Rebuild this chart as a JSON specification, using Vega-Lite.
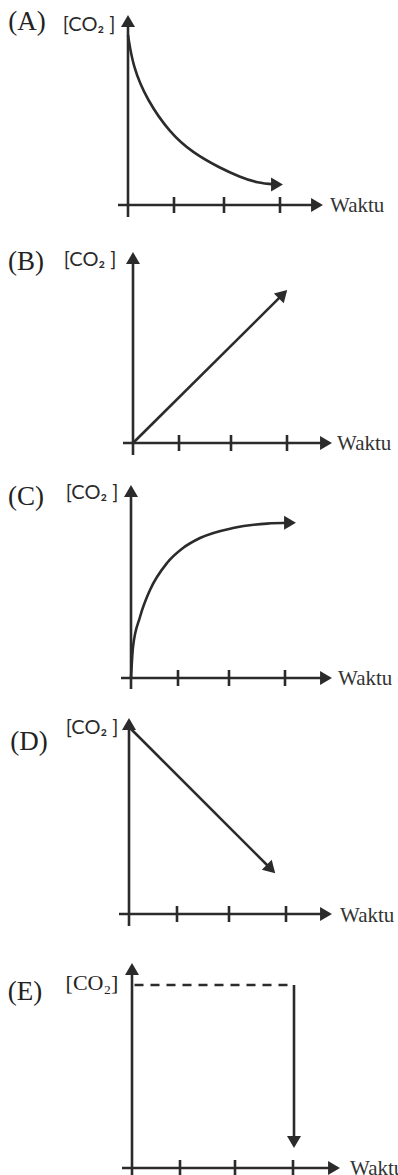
{
"$schema":"https://vega.github.io/schema/vega-lite/v6.json",
"padding":0,"spacing":0,"bounds":"flush",
"background":"white",
"config":{"view":{"stroke":null},"concat":{"spacing":0}},
"vconcat":[
{
 "width":398,"height":230,
 "encoding":{
  "x":{"field":"t","type":"quantitative","scale":{"domain":[-2.56,5.40],"nice":false,"zero":false},"axis":null},
  "y":{"field":"c","type":"quantitative","scale":{"domain":[-1.25,10.25],"nice":false,"zero":false},"axis":null}
 },
 "layer":[
  {"data":{"values":[{"part":"x-axis","t":-0.2,"c":0,"t2":3.78,"c2":0},{"part":"y-axis","t":0,"c":-0.6,"t2":0,"c2":9.2}]},
   "mark":{"type":"rule","color":"#2b2b2b","strokeWidth":2.6},
   "encoding":{"x2":{"field":"t2"},"y2":{"field":"c2"}}},
  {"data":{"values":[{"t":0.92,"c":0},{"t":1.92,"c":0},{"t":3.04,"c":0}]},
   "mark":{"type":"point","shape":"M0,-1L0,1","size":256,"filled":false,"strokeWidth":2.6,"color":"#2b2b2b","opacity":1}},
  {"data":{"values":[{"t":0,"c":8.5},{"t":0.1,"c":6.9},{"t":0.38,"c":5.25},{"t":0.84,"c":3.6},{"t":1.3,"c":2.6},{"t":1.84,"c":1.85},{"t":2.24,"c":1.4},{"t":2.58,"c":1.1},{"t":2.98,"c":1.02}]},
   "mark":{"type":"line","interpolate":"basis","color":"#2b2b2b","strokeWidth":2.6}},
  {"data":{"values":[{"t":3.78,"c":0,"dir":"right"},{"t":0,"c":9.2,"dir":"up"},{"t":2.98,"c":1.02,"dir":"right"}]},
   "mark":{"type":"point","filled":true,"size":196,"color":"#2b2b2b","opacity":1,"strokeWidth":0},
   "encoding":{"shape":{"field":"dir","type":"nominal","legend":null,"scale":{"domain":["right","up","down","upright","downright"],"range":["M0.85,0L-0.85,-1L-0.85,1Z","M0,-0.85L-1,0.85L1,0.85Z","M0,0.85L-1,-0.85L1,-0.85Z","M0.601,-0.601L-1.308,-0.106L0.106,1.308Z","M0.601,0.601L0.106,-1.308L-1.308,0.106Z"]}}}},
  {"data":{"values":[{"t":-2.02,"c":9.15,"label":"(A)"}]},
   "mark":{"type":"text","font":"Liberation Serif","fontSize":27,"color":"#222","align":"center","baseline":"middle"},
   "encoding":{"text":{"field":"label"}}},
  {"data":{"values":[{"t":-0.78,"c":9.0,"label":"[CO₂ ]"}]},
   "mark":{"type":"text","font":"Lato","fontSize":20,"color":"#2a2a2a","align":"center","baseline":"middle"},
   "encoding":{"text":{"field":"label"}}},
  {"data":{"values":[{"t":4.04,"c":-0.35,"label":"Waktu"}]},
   "mark":{"type":"text","font":"Liberation Serif","fontSize":21,"color":"#333","align":"left","baseline":"alphabetic"},
   "encoding":{"text":{"field":"label"}}}
 ]
},
{
 "width":398,"height":230,
 "encoding":{
  "x":{"field":"t","type":"quantitative","scale":{"domain":[-2.66,5.30],"nice":false,"zero":false},"axis":null},
  "y":{"field":"c","type":"quantitative","scale":{"domain":[-0.85,10.65],"nice":false,"zero":false},"axis":null}
 },
 "layer":[
  {"data":{"values":[{"part":"x-axis","t":-0.2,"c":0,"t2":3.86,"c2":0},{"part":"y-axis","t":0,"c":-0.6,"t2":0,"c2":9.25}]},
   "mark":{"type":"rule","color":"#2b2b2b","strokeWidth":2.6},
   "encoding":{"x2":{"field":"t2"},"y2":{"field":"c2"}}},
  {"data":{"values":[{"t":0.92,"c":0},{"t":1.96,"c":0},{"t":3.08,"c":0}]},
   "mark":{"type":"point","shape":"M0,-1L0,1","size":256,"filled":false,"strokeWidth":2.6,"color":"#2b2b2b","opacity":1}},
  {"data":{"values":[{"t":0,"c":0},{"t":3.0,"c":7.44}]},
   "mark":{"type":"line","color":"#2b2b2b","strokeWidth":2.6}},
  {"data":{"values":[{"t":3.86,"c":0,"dir":"right"},{"t":0,"c":9.25,"dir":"up"},{"t":3.0,"c":7.44,"dir":"upright"}]},
   "mark":{"type":"point","filled":true,"size":196,"color":"#2b2b2b","opacity":1,"strokeWidth":0},
   "encoding":{"shape":{"field":"dir","type":"nominal","legend":null,"scale":{"domain":["right","up","down","upright","downright"],"range":["M0.85,0L-0.85,-1L-0.85,1Z","M0,-0.85L-1,0.85L1,0.85Z","M0,0.85L-1,-0.85L1,-0.85Z","M0.601,-0.601L-1.308,-0.106L0.106,1.308Z","M0.601,0.601L0.106,-1.308L-1.308,0.106Z"]}}}},
  {"data":{"values":[{"t":-2.14,"c":9.05,"label":"(B)"}]},
   "mark":{"type":"text","font":"Liberation Serif","fontSize":27,"color":"#222","align":"center","baseline":"middle"},
   "encoding":{"text":{"field":"label"}}},
  {"data":{"values":[{"t":-0.86,"c":9.15,"label":"[CO₂ ]"}]},
   "mark":{"type":"text","font":"Lato","fontSize":20,"color":"#2a2a2a","align":"center","baseline":"middle"},
   "encoding":{"text":{"field":"label"}}},
  {"data":{"values":[{"t":4.08,"c":-0.35,"label":"Waktu"}]},
   "mark":{"type":"text","font":"Liberation Serif","fontSize":21,"color":"#333","align":"left","baseline":"alphabetic"},
   "encoding":{"text":{"field":"label"}}}
 ]
},
{
 "width":398,"height":230,
 "encoding":{
  "x":{"field":"t","type":"quantitative","scale":{"domain":[-2.62,5.34],"nice":false,"zero":false},"axis":null},
  "y":{"field":"c","type":"quantitative","scale":{"domain":[-0.6,10.9],"nice":false,"zero":false},"axis":null}
 },
 "layer":[
  {"data":{"values":[{"part":"x-axis","t":-0.2,"c":0,"t2":3.9,"c2":0},{"part":"y-axis","t":0,"c":-0.55,"t2":0,"c2":9.35}]},
   "mark":{"type":"rule","color":"#2b2b2b","strokeWidth":2.6},
   "encoding":{"x2":{"field":"t2"},"y2":{"field":"c2"}}},
  {"data":{"values":[{"t":0.94,"c":0},{"t":1.96,"c":0},{"t":3.08,"c":0}]},
   "mark":{"type":"point","shape":"M0,-1L0,1","size":256,"filled":false,"strokeWidth":2.6,"color":"#2b2b2b","opacity":1}},
  {"data":{"values":[{"t":0,"c":0},{"t":0.04,"c":1.55},{"t":0.18,"c":3.05},{"t":0.38,"c":4.4},{"t":0.72,"c":5.75},{"t":1.04,"c":6.5},{"t":1.38,"c":7.0},{"t":2.04,"c":7.5},{"t":2.72,"c":7.72},{"t":3.18,"c":7.76}]},
   "mark":{"type":"line","interpolate":"monotone","color":"#2b2b2b","strokeWidth":2.6}},
  {"data":{"values":[{"t":3.9,"c":0,"dir":"right"},{"t":0,"c":9.35,"dir":"up"},{"t":3.18,"c":7.76,"dir":"right"}]},
   "mark":{"type":"point","filled":true,"size":196,"color":"#2b2b2b","opacity":1,"strokeWidth":0},
   "encoding":{"shape":{"field":"dir","type":"nominal","legend":null,"scale":{"domain":["right","up","down","upright","downright"],"range":["M0.85,0L-0.85,-1L-0.85,1Z","M0,-0.85L-1,0.85L1,0.85Z","M0,0.85L-1,-0.85L1,-0.85Z","M0.601,-0.601L-1.308,-0.106L0.106,1.308Z","M0.601,0.601L0.106,-1.308L-1.308,0.106Z"]}}}},
  {"data":{"values":[{"t":-2.1,"c":9.05,"label":"(C)"}]},
   "mark":{"type":"text","font":"Liberation Serif","fontSize":27,"color":"#222","align":"center","baseline":"middle"},
   "encoding":{"text":{"field":"label"}}},
  {"data":{"values":[{"t":-0.78,"c":9.25,"label":"[CO₂ ]"}]},
   "mark":{"type":"text","font":"Lato","fontSize":20,"color":"#2a2a2a","align":"center","baseline":"middle"},
   "encoding":{"text":{"field":"label"}}},
  {"data":{"values":[{"t":4.14,"c":-0.35,"label":"Waktu"}]},
   "mark":{"type":"text","font":"Liberation Serif","fontSize":21,"color":"#333","align":"left","baseline":"alphabetic"},
   "encoding":{"text":{"field":"label"}}}
 ]
},
{
 "width":398,"height":240,
 "encoding":{
  "x":{"field":"t","type":"quantitative","scale":{"domain":[-2.58,5.38],"nice":false,"zero":false},"axis":null},
  "y":{"field":"c","type":"quantitative","scale":{"domain":[-0.8,11.2],"nice":false,"zero":false},"axis":null}
 },
 "layer":[
  {"data":{"values":[{"part":"x-axis","t":-0.2,"c":0,"t2":3.94,"c2":0},{"part":"y-axis","t":0,"c":-0.6,"t2":0,"c2":9.5}]},
   "mark":{"type":"rule","color":"#2b2b2b","strokeWidth":2.6},
   "encoding":{"x2":{"field":"t2"},"y2":{"field":"c2"}}},
  {"data":{"values":[{"t":0.96,"c":0},{"t":2.0,"c":0},{"t":3.14,"c":0}]},
   "mark":{"type":"point","shape":"M0,-1L0,1","size":256,"filled":false,"strokeWidth":2.6,"color":"#2b2b2b","opacity":1}},
  {"data":{"values":[{"t":0.02,"c":9.3},{"t":2.84,"c":2.25}]},
   "mark":{"type":"line","color":"#2b2b2b","strokeWidth":2.6}},
  {"data":{"values":[{"t":3.94,"c":0,"dir":"right"},{"t":0,"c":9.5,"dir":"up"},{"t":2.84,"c":2.25,"dir":"downright"}]},
   "mark":{"type":"point","filled":true,"size":196,"color":"#2b2b2b","opacity":1,"strokeWidth":0},
   "encoding":{"shape":{"field":"dir","type":"nominal","legend":null,"scale":{"domain":["right","up","down","upright","downright"],"range":["M0.85,0L-0.85,-1L-0.85,1Z","M0,-0.85L-1,0.85L1,0.85Z","M0,0.85L-1,-0.85L1,-0.85Z","M0.601,-0.601L-1.308,-0.106L0.106,1.308Z","M0.601,0.601L0.106,-1.308L-1.308,0.106Z"]}}}},
  {"data":{"values":[{"t":-2.0,"c":8.6,"label":"(D)"}]},
   "mark":{"type":"text","font":"Liberation Serif","fontSize":27,"color":"#222","align":"center","baseline":"middle"},
   "encoding":{"text":{"field":"label"}}},
  {"data":{"values":[{"t":-0.74,"c":9.3,"label":"[CO₂ ]"}]},
   "mark":{"type":"text","font":"Lato","fontSize":20,"color":"#2a2a2a","align":"center","baseline":"middle"},
   "encoding":{"text":{"field":"label"}}},
  {"data":{"values":[{"t":4.22,"c":-0.4,"label":"Waktu"}]},
   "mark":{"type":"text","font":"Liberation Serif","fontSize":21,"color":"#333","align":"left","baseline":"alphabetic"},
   "encoding":{"text":{"field":"label"}}}
 ]
},
{
 "width":398,"height":245,
 "encoding":{
  "x":{"field":"t","type":"quantitative","scale":{"domain":[-2.64,5.32],"nice":false,"zero":false},"axis":null},
  "y":{"field":"c","type":"quantitative","scale":{"domain":[-0.35,11.9],"nice":false,"zero":false},"axis":null}
 },
 "layer":[
  {"data":{"values":[{"part":"x-axis","t":-0.2,"c":0,"t2":4.04,"c2":0},{"part":"y-axis","t":0,"c":-0.6,"t2":0,"c2":9.95}]},
   "mark":{"type":"rule","color":"#2b2b2b","strokeWidth":2.6},
   "encoding":{"x2":{"field":"t2"},"y2":{"field":"c2"}}},
  {"data":{"values":[{"t":0.96,"c":0},{"t":2.06,"c":0},{"t":3.22,"c":0}]},
   "mark":{"type":"point","shape":"M0,-1L0,1","size":256,"filled":false,"strokeWidth":2.6,"color":"#2b2b2b","opacity":1}},
  {"data":{"values":[{"t":0.05,"c":9.15},{"t":3.24,"c":9.15}]},
   "mark":{"type":"line","color":"#2b2b2b","strokeWidth":2.6,"strokeDash":[9,7]}},
  {"data":{"values":[{"t":3.24,"c":9.15},{"t":3.24,"c":1.3}]},
   "mark":{"type":"line","color":"#2b2b2b","strokeWidth":2.6}},
  {"data":{"values":[{"t":4.04,"c":0,"dir":"right"},{"t":0,"c":9.95,"dir":"up"},{"t":3.24,"c":1.3,"dir":"down"}]},
   "mark":{"type":"point","filled":true,"size":196,"color":"#2b2b2b","opacity":1,"strokeWidth":0},
   "encoding":{"shape":{"field":"dir","type":"nominal","legend":null,"scale":{"domain":["right","up","down","upright","downright"],"range":["M0.85,0L-0.85,-1L-0.85,1Z","M0,-0.85L-1,0.85L1,0.85Z","M0,0.85L-1,-0.85L1,-0.85Z","M0.601,-0.601L-1.308,-0.106L0.106,1.308Z","M0.601,0.601L0.106,-1.308L-1.308,0.106Z"]}}}},
  {"data":{"values":[{"t":-2.14,"c":8.8,"label":"(E)"}]},
   "mark":{"type":"text","font":"Liberation Serif","fontSize":27,"color":"#222","align":"center","baseline":"middle"},
   "encoding":{"text":{"field":"label"}}},
  {"data":{"values":[{"t":-0.8,"c":9.25,"label":"[CO₂]"}]},
   "mark":{"type":"text","font":"Liberation Serif","fontSize":22,"color":"#222","align":"center","baseline":"middle"},
   "encoding":{"text":{"field":"label"}}},
  {"data":{"values":[{"t":4.36,"c":-0.35,"label":"Waktu"}]},
   "mark":{"type":"text","font":"Liberation Serif","fontSize":21,"color":"#333","align":"left","baseline":"alphabetic"},
   "encoding":{"text":{"field":"label"}}}
 ]
}
]
}
